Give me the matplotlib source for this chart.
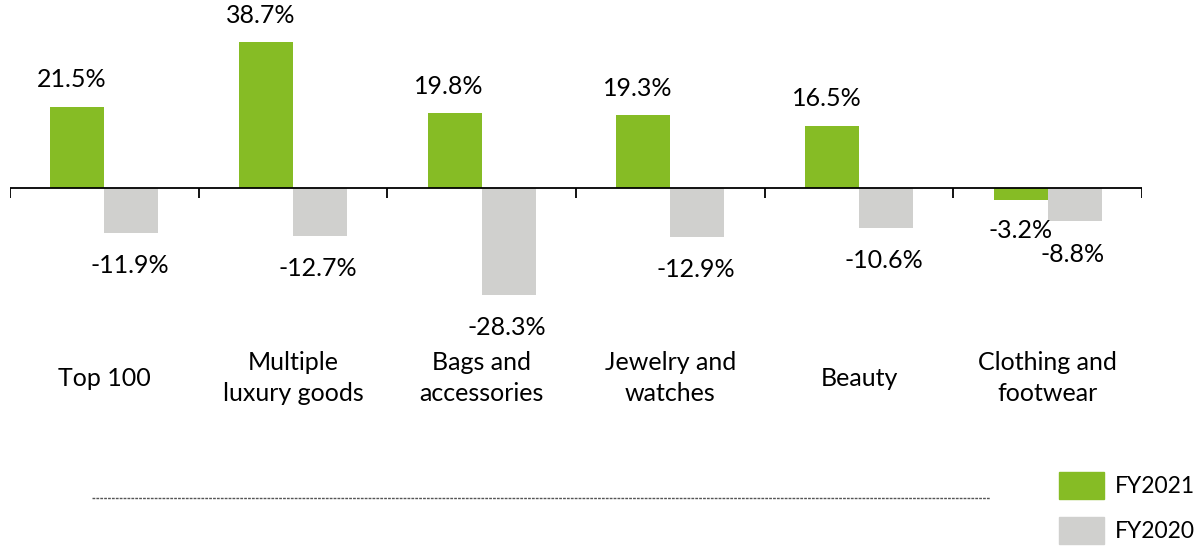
import numpy as np
import matplotlib.pyplot as plt
from matplotlib.lines import Line2D
from matplotlib.patches import Patch

categories = ['Top 100', 'Multiple\nluxury goods', 'Bags and\naccessories',
              'Jewelry and\nwatches', 'Beauty', 'Clothing and\nfootwear']
fy2021 = [21.5, 38.7, 19.8, 19.3, 16.5, -3.2]
fy2020 = [-11.9, -12.7, -28.3, -12.9, -10.6, -8.8]

green = '#86BC25'
grey = '#D0D0CE'

plt.rcParams['font.family'] = ['Lato', 'DejaVu Sans']

W, H = 1203, 548
fig = plt.figure(figsize=(W / 100, H / 100), dpi=100)
# axes: x from px 10 to 1142, full height
ax = fig.add_axes([10 / W, 0, (1142 - 10) / W, 1])
ppu = 3.77  # pixels per percent
zero_px = 188
ax.set_ylim(-(H - zero_px) / ppu, zero_px / ppu)
ax.set_xlim(0, len(categories))
ax.axis('off')

x = np.arange(len(categories)) + 0.5
bw = 0.286
ax.bar(x - bw / 2, fy2021, bw, color=green)
ax.bar(x + bw / 2, fy2020, bw, color=grey)

ax.axhline(0, color='black', lw=1.3)
for b in range(len(categories) + 1):
    ax.plot([b, b], [0, -10 / ppu], color='black', lw=1.3, solid_capstyle='butt')

fs = 18
for i in range(len(categories)):
    v = fy2021[i]
    if v >= 0:
        ax.text(x[i] - bw / 2 - 0.03, v + 27 / ppu, f'{v:.1f}%', ha='center', va='center', fontsize=fs)
    else:
        ax.text(x[i] - bw / 2, v - 30 / ppu, f'{v:.1f}%', ha='center', va='center', fontsize=fs)
    v = fy2020[i]
    ax.text(x[i] + bw / 2 - 0.01, v - 33 / ppu, f'{v:.1f}%', ha='center', va='center', fontsize=fs)
    ax.text(x[i], -(378 - zero_px) / ppu, categories[i], ha='center', va='center',
            fontsize=fs, linespacing=1.45)

fig.add_artist(Line2D([92 / W, 990 / W], [1 - 498 / H, 1 - 498 / H], color='#555555',
                      lw=1, linestyle=(0, (2, 0.8))))

handles = [Patch(color=green, label='FY2021'), Patch(color=grey, label='FY2020')]
fig.legend(handles=handles, loc='upper left', bbox_to_anchor=(1050 / W, 1 - 463 / H),
           frameon=False, fontsize=16.5, handlelength=1.95, handleheight=1.45,
           handletextpad=0.5, labelspacing=0.75, borderaxespad=0)

fig.savefig('out.png', dpi=100)
